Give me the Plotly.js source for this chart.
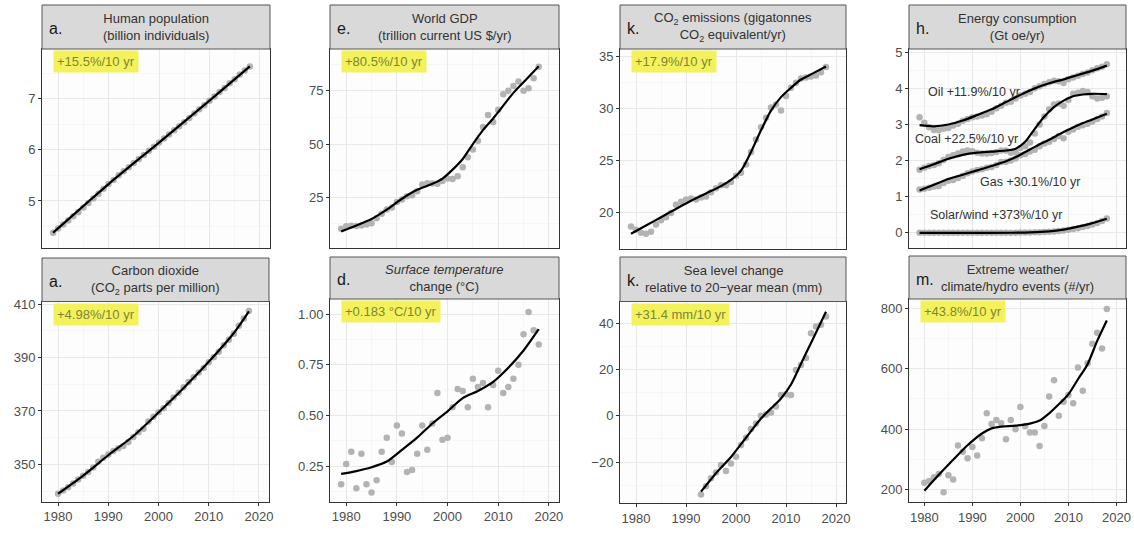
<!DOCTYPE html>
<html><head><meta charset="utf-8">
<script src="https://cdn.plot.ly/plotly-3.0.1.min.js"></script>
<style>html,body{margin:0;padding:0;background:#fff}#chart{width:1134px;height:541px}</style>
</head><body><div id="chart"></div>
<script>
// ---------------- data ----------------
const years = [1979,1980,1981,1982,1983,1984,1985,1986,1987,1988,1989,1990,1991,1992,1993,1994,1995,1996,1997,1998,1999,2000,2001,2002,2003,2004,2005,2006,2007,2008,2009,2010,2011,2012,2013,2014,2015,2016,2017,2018];
const yearsFrom1980 = [1980,1981,1982,1983,1984,1985,1986,1987,1988,1989,1990,1991,1992,1993,1994,1995,1996,1997,1998,1999,2000,2001,2002,2003,2004,2005,2006,2007,2008,2009,2010,2011,2012,2013,2014,2015,2016,2017,2018];
const yearsSea = [1993,1994,1995,1996,1997,1998,1999,2000,2001,2002,2003,2004,2005,2006,2007,2008,2009,2010,2011,2012,2013,2014,2015,2016,2017,2018];

const population = [4.38,4.46,4.54,4.62,4.70,4.78,4.87,4.96,5.05,5.14, 5.24,5.33,5.41,5.50,5.58,5.66,5.74,5.82,5.90,5.98, 6.06,6.14,6.22,6.30,6.38,6.46,6.54,6.62,6.71,6.79, 6.87,6.96,7.04,7.13,7.21,7.30,7.38,7.47,7.55,7.63];
const gdp = [10.2,11.4,11.7,11.5,11.8,12.2,12.8,15.2,17.3,19.3, 20.2,22.8,24.0,25.5,25.9,27.8,31.0,31.6,31.5,31.4, 32.6,33.8,33.6,34.9,39.1,43.8,47.4,51.5,58.0,63.6, 60.3,66.1,73.4,75.0,77.2,79.3,75.0,76.2,80.9,86.3];
const co2Emissions = [18.6,18.3,18.0,17.9,18.1,18.8,19.2,19.5,19.9,20.7, 21.0,21.2,21.3,21.2,21.4,21.5,21.9,22.3,22.6,22.6, 22.9,23.5,23.8,24.6,25.8,27.0,28.2,29.1,30.1,30.4, 29.8,31.2,32.0,32.5,32.9,33.0,33.1,33.2,33.5,34.0];
const oil = [3.20,3.05,2.92,2.85,2.84,2.88,2.90,2.97,3.02,3.10, 3.15,3.20,3.22,3.25,3.28,3.35,3.45,3.52,3.60,3.63, 3.72,3.80,3.85,3.90,4.00,4.06,4.12,4.17,4.21,4.20, 4.15,4.25,4.30,4.35,4.40,4.44,4.50,4.56,4.60,4.67];
const coal = [1.75,1.80,1.85,1.88,1.93,2.02,2.10,2.15,2.20,2.25, 2.28,2.26,2.22,2.20,2.20,2.21,2.24,2.28,2.28,2.22, 2.24,2.35,2.40,2.50,2.75,3.00,3.22,3.42,3.55,3.58, 3.52,3.68,3.85,3.88,3.93,3.90,3.78,3.72,3.74,3.78];
const gas = [1.20,1.22,1.25,1.28,1.30,1.38,1.44,1.46,1.52,1.58, 1.65,1.70,1.74,1.76,1.80,1.82,1.88,1.96,1.97,2.00, 2.06,2.15,2.18,2.25,2.30,2.40,2.47,2.52,2.60,2.68, 2.62,2.80,2.86,2.94,2.98,3.02,3.08,3.15,3.22,3.32];
const solarWind = [0,0,0,0,0,0,0,0,0,0, 0,0,0,0,0,0,0.002,0.002,0.003,0.004, 0.005,0.007,0.009,0.011,0.014,0.018,0.022,0.028,0.036,0.048, 0.065,0.085,0.105,0.13,0.16,0.19,0.23,0.27,0.33,0.40];
const co2ppm = [339.0,340.2,341.4,342.8,344.3,345.7,347.1,348.8,351.0,352.5, 353.7,355.0,356.0,356.9,358.4,360.2,362.0,363.3,366.0,367.8, 369.5,371.0,373.0,375.0,376.8,378.9,380.8,382.6,384.4,386.1, 388.2,390.1,392.2,394.6,396.7,398.9,401.9,404.6,407.4];
const temperature = [0.16,0.26,0.32,0.14,0.31,0.16,0.12,0.18,0.32,0.39, 0.27,0.45,0.41,0.22,0.23,0.31,0.45,0.33,0.46,0.61, 0.38,0.39,0.54,0.63,0.62,0.54,0.68,0.64,0.66,0.54, 0.65,0.72,0.61,0.64,0.68,0.75,0.90,1.01,0.92,0.85];
const seaLevel = [-34,-30.5,-27,-24.5,-21.3,-23.9,-20.6,-17.7,-12.6,-9.5,-5.7,-3.3,0.0,0.6,1.4,4.0,9.0,9.3,9.0,19.8,22.0,25.0,35.7,38.6,39.3,42.9];
const extremeEvents = [222,228,240,251,190,247,233,345,325,303, 340,312,369,452,417,430,419,366,430,399, 473,410,388,388,344,410,508,562,444,490, 513,485,604,527,618,683,719,667,798];

// smooth (fitted) curves at knot years
const popSmoothYears = [1979,1990,2000,2010,2018];
const popSmooth      = [4.38,5.33,6.14,6.96,7.63];
const co2ppmSmoothYears = [1980,1985,1990,1995,2000,2005,2010,2015,2018];
const co2ppmSmooth      = [339.0,345.8,353.4,360.6,369.4,378.6,388.4,399.2,407.3];
const gdpSmoothYears = [1979,1982,1985,1988,1991,1994,1997,1999,2001,2003,2005,2007,2009,2011,2013,2015,2018];
const gdpSmooth      = [9.0,11.8,14.8,19.2,24.3,28.5,31.3,33.8,38.0,43.0,50.0,56.5,62.0,68.0,74.0,79.0,86.5];
const co2EmSmoothYears = [1979,1982,1985,1988,1991,1994,1997,1999,2001,2003,2005,2007,2009,2011,2013,2015,2018];
const co2EmSmooth      = [17.9,18.7,19.5,20.3,21.1,21.8,22.5,23.1,24.0,25.8,27.9,29.8,31.1,32.0,32.8,33.3,34.05];
const oilSmoothYears = [1979,1982,1985,1988,1991,1994,1997,2000,2003,2006,2009,2012,2015,2018];
const oilSmooth      = [2.98,2.95,3.00,3.11,3.26,3.42,3.62,3.82,4.00,4.14,4.25,4.37,4.49,4.63];
const coalSmoothYears = [1979,1982,1985,1988,1991,1994,1997,1999,2001,2003,2005,2007,2009,2011,2013,2015,2018];
const coalSmooth      = [1.76,1.90,2.05,2.16,2.22,2.25,2.28,2.33,2.52,2.88,3.22,3.48,3.66,3.78,3.83,3.85,3.84];
const gasSmoothYears = [1979,1982,1985,1988,1991,1994,1997,2000,2003,2006,2009,2012,2015,2018];
const gasSmooth      = [1.17,1.33,1.49,1.61,1.73,1.85,1.98,2.16,2.38,2.58,2.79,2.98,3.14,3.30];
const solarSmoothYears = [1979,1990,1998,2002,2006,2009,2012,2015,2018];
const solarSmooth      = [0,0,0.002,0.01,0.04,0.09,0.17,0.27,0.39];
const tempSmoothYears = [1979,1982,1985,1988,1991,1994,1997,2000,2003,2006,2009,2012,2015,2018];
const tempSmooth      = [0.211,0.225,0.244,0.272,0.33,0.39,0.46,0.52,0.585,0.62,0.665,0.735,0.82,0.925];
const seaSmoothYears = [1993,1996,1999,2002,2005,2007,2009,2011,2013,2015,2018];
const seaSmooth      = [-32.8,-24.8,-17.8,-9.5,-1.2,3.2,7.5,13.5,22.5,31.5,45.0];
const extSmoothYears = [1980,1983,1986,1989,1992,1994,1996,1999,2002,2004,2006,2008,2010,2012,2014,2016,2018];
const extSmooth      = [195,248,298,346,385,402,408,411,418,428,452,482,515,565,615,692,760];

const energyLabels = ['Oil +11.9%/10 yr','Coal +22.5%/10 yr','Gas +30.1%/10 yr','Solar/wind +373%/10 yr'];
const xTicks = [1980,1990,2000,2010,2020];

// ---------------- layout ----------------
const W = 1134, H = 541;
const FONT = 'Liberation Sans, Arial, Helvetica, sans-serif';
const PTCOL = '#b3b3b3';

const panels = [
 {box:[42,270,5,49,248],     letter:'a.', head:'Human population<br>(billion individuals)', badge:'+15.5%/10 yr', range:[4.08,7.97], dtick:1, tick0:0,
  series:[{x:years,y:population,sx:popSmoothYears,sy:popSmooth}]},
 {box:[330,559,5,49,248],    letter:'e.', head:'World GDP<br>(trillion current US $/yr)', badge:'+80.5%/10 yr', range:[1.2,94.6], dtick:25, tick0:0,
  series:[{x:years,y:gdp,sx:gdpSmoothYears,sy:gdpSmooth}]},
 {box:[620,846,5,49,249],    letter:'k.', head:'CO<sub>2</sub> emissions (gigatonnes<br>CO<sub>2</sub> equivalent/yr)', badge:'+17.9%/10 yr', range:[16.43,35.75], dtick:5, tick0:0,
  series:[{x:years,y:co2Emissions,sx:co2EmSmoothYears,sy:co2EmSmooth}]},
 {box:[909,1126,5,49,248],   letter:'h.', head:'Energy consumption<br>(Gt oe/yr)', badge:null, range:[-0.42,5.09], dtick:1, tick0:0,
  series:[{x:years,y:oil,sx:oilSmoothYears,sy:oilSmooth},{x:years,y:coal,sx:coalSmoothYears,sy:coalSmooth},
          {x:years,y:gas,sx:gasSmoothYears,sy:gasSmooth},{x:years,y:solarWind,sx:solarSmoothYears,sy:solarSmooth}]},
 {box:[42,269,258,301.5,501.7], letter:'a.', head:'Carbon dioxide<br>(CO<sub>2</sub> parts per million)', badge:'+4.98%/10 yr', range:[336,411], dtick:20, tick0:350, bottom:true,
  series:[{x:yearsFrom1980,y:co2ppm,sx:co2ppmSmoothYears,sy:co2ppmSmooth}]},
 {box:[330,559,257,299,501.7],  letter:'d.', head:'<i>Surface temperature</i><br>change (°C)', badge:'+0.183 °C/10 yr', range:[0.074,1.074], dtick:0.25, tick0:0, fmt:'.2f', bottom:true,
  series:[{x:years,y:temperature,sx:tempSmoothYears,sy:tempSmooth}]},
 {box:[620,846,257,301.5,503],  letter:'k.', head:'Sea level change<br>relative to 20\u2212year mean (mm)', badge:'+31.4 mm/10 yr', range:[-37.7,49.4], dtick:20, tick0:0, bottom:true,
  series:[{x:yearsSea,y:seaLevel,sx:seaSmoothYears,sy:seaSmooth}]},
 {box:[909,1126,256,299,502],   letter:'m.', head:'Extreme weather/<br>climate/hydro events (#/yr)', badge:'+43.8%/10 yr', range:[158,831], dtick:200, tick0:0, bottom:true,
  series:[{x:yearsFrom1980,y:extremeEvents,sx:extSmoothYears,sy:extSmooth}]},
];

const traces = [], shapes = [], annotations = [];
const layout = {
  width:W, height:H, margin:{l:0,r:0,t:0,b:0},
  paper_bgcolor:'#ffffff', plot_bgcolor:'#fdfdfd',
  showlegend:false, font:{family:FONT, size:13, color:'#4d4d4d'},
  shapes, annotations
};

panels.forEach((p,i)=>{
  const n = i+1, s = n===1 ? '' : String(n);
  const [x0,x1,hTop,pTop,pBot] = p.box;
  const bottom = !!p.bottom;
  layout['xaxis'+s] = {
    domain:[x0/W, x1/W], range:[1976.8,2022], anchor:'y'+s,
    tickvals:xTicks, ticktext:xTicks.map(String),
    showticklabels:bottom, ticks:bottom?'outside':'', ticklen:3, tickwidth:1, tickcolor:'#333',
    tickfont:{size:13,color:'#4d4d4d'},
    showline:true, mirror:true, linecolor:'#333', linewidth:1,
    showgrid:true, gridcolor:'#e6e8ec', gridwidth:1, zeroline:false,
    minor:{tick0:1975, dtick:10, showgrid:true, gridcolor:'#f1f2f4', gridwidth:0.6, ticks:''},
    fixedrange:true
  };
  layout['yaxis'+s] = {
    domain:[1-pBot/H, 1-pTop/H], range:p.range, anchor:'x'+s,
    tick0:p.tick0, dtick:p.dtick, tickformat:p.fmt||'',
    ticks:'outside', ticklen:3, tickwidth:1, tickcolor:'#333',
    tickfont:{size:13,color:'#4d4d4d'},
    showline:true, mirror:true, linecolor:'#333', linewidth:1,
    showgrid:true, gridcolor:'#e6e8ec', gridwidth:1, zeroline:false,
    minor:{tick0:p.tick0 + p.dtick/2, dtick:p.dtick, showgrid:true, gridcolor:'#f1f2f4', gridwidth:0.6, ticks:''},
    fixedrange:true
  };
  p.series.forEach(se=>{
    traces.push({type:'scatter', mode:'markers', x:se.x, y:se.y, xaxis:'x'+s, yaxis:'y'+s,
      marker:{size:6.5, color:PTCOL}, hoverinfo:'skip', cliponaxis:true});
    traces.push({type:'scatter', mode:'lines', x:se.sx, y:se.sy, xaxis:'x'+s, yaxis:'y'+s,
      line:{color:'#000000', width:2.2, shape:'spline', smoothing:0.8}, hoverinfo:'skip'});
  });
  // header strip
  shapes.push({type:'rect', xref:'paper', yref:'paper', x0:x0/W, x1:x1/W, y0:1-pTop/H, y1:1-hTop/H,
    fillcolor:'#d9d9d9', line:{color:'#555555', width:1}, layer:'above'});
  annotations.push({xref:'paper', yref:'paper', x:(x0+x1)/2/W, y:1-((hTop+pTop)/2)/H,
    xanchor:'center', yanchor:'middle', showarrow:false, align:'center',
    text:p.head, font:{family:FONT, size:13, color:'#333333'}});
  annotations.push({xref:'paper', yref:'paper', x:(x0+5)/W, y:1-((hTop+pTop)/2+1.5)/H,
    xanchor:'left', yanchor:'middle', showarrow:false,
    text:p.letter, font:{family:FONT, size:16, color:'#1a1a1a'}});
  if (p.badge) {
    annotations.push({xref:'paper', yref:'paper', x:(x0+10.5)/W, y:1-(pTop+1)/H,
      xanchor:'left', yanchor:'top', showarrow:false, text:p.badge,
      bgcolor:'#f4f25c', borderpad:3, font:{family:FONT, size:13, color:'#7d8636'}});
  }
});

// energy series labels
const energyPos = [[1980.3,3.89],[1977.6,2.60],[1991.1,1.40],[1980.7,0.49]];
energyLabels.forEach((t,k)=>{
  annotations.push({xref:'x4', yref:'y4', x:energyPos[k][0], y:energyPos[k][1],
    xanchor:'left', yanchor:'middle', showarrow:false, text:t,
    font:{family:FONT, size:12.5, color:'#333333'}});
});

Plotly.newPlot('chart', traces, layout, {staticPlot:true, displayModeBar:false});
</script>
</body></html>
